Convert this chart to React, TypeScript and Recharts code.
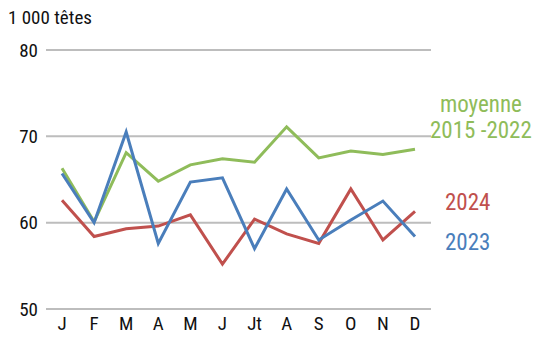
import React from "react";
import { LineChart, Line, XAxis, YAxis, CartesianGrid } from "recharts";

const months = ["J", "F", "M", "A", "M", "J", "Jt", "A", "S", "O", "N", "D"];
const moyenne = [66.3, 60.1, 68.1, 64.8, 66.7, 67.4, 67.0, 71.1, 67.5, 68.3, 67.9, 68.5];
const y2023 = [65.7, 60.0, 70.5, 57.6, 64.7, 65.2, 57.0, 63.9, 58.0, 60.3, 62.5, 58.4];
const y2024 = [62.6, 58.4, 59.3, 59.6, 60.9, 55.2, 60.4, 58.7, 57.6, 63.9, 58.0, 61.3];
const yTicks = [50, 60, 70, 80];

const GREEN = "#8fbc5a";
const RED = "#c0504d";
const BLUE = "#4a7ebb";
const FONT = "'Liberation Sans Narrow', 'Roboto Condensed', Roboto, sans-serif";

const data = months.map((m, i) => ({
  m,
  moy: moyenne[i],
  a23: y2023[i],
  a24: y2024[i],
}));

const tick = { fill: "#111", fontSize: 19, fontFamily: FONT };

function Tag({ x, y, color, children }: { x: number; y: number; color: string; children: React.ReactNode }) {
  return (
    <div
      style={{
        position: "absolute",
        left: x,
        top: y,
        color,
        fontFamily: FONT,
        fontSize: 23,
        lineHeight: "26px",
        textAlign: "center",
        whiteSpace: "nowrap",
      }}
    >
      {children}
    </div>
  );
}

export default function App() {
  return (
    <div style={{ position: "fixed", left: 0, top: 0, width: 537, height: 354, background: "#fff" }}>
      <div
        style={{
          position: "absolute",
          left: 8,
          top: 6,
          fontFamily: FONT,
          fontSize: 19,
          color: "#111",
        }}
      >
        1 000 têtes
      </div>
      <LineChart
        width={537}
        height={354}
        data={data}
        margin={{ top: 50, right: 106, bottom: 15, left: 0 }}
      >
        <CartesianGrid vertical={false} stroke="#bdbdbd" strokeWidth={2} />
        <XAxis
          dataKey="m"
          axisLine={false}
          tickLine={false}
          tick={tick}
          interval={0}
          padding={{ left: 16, right: 16 }}
        />
        <YAxis
          width={46}
          domain={[50, 80]}
          ticks={yTicks}
          axisLine={false}
          tickLine={false}
          tick={tick}
        />
        <Line dataKey="moy" stroke={GREEN} strokeWidth={3} dot={false} isAnimationActive={false} />
        <Line dataKey="a24" stroke={RED} strokeWidth={3} dot={false} isAnimationActive={false} />
        <Line dataKey="a23" stroke={BLUE} strokeWidth={3} dot={false} isAnimationActive={false} />
      </LineChart>
      <Tag x={430} y={92} color={GREEN}>
        moyenne
        <br />
        2015 -2022
      </Tag>
      <Tag x={445} y={190} color={RED}>2024</Tag>
      <Tag x={445} y={230} color={BLUE}>2023</Tag>
    </div>
  );
}
